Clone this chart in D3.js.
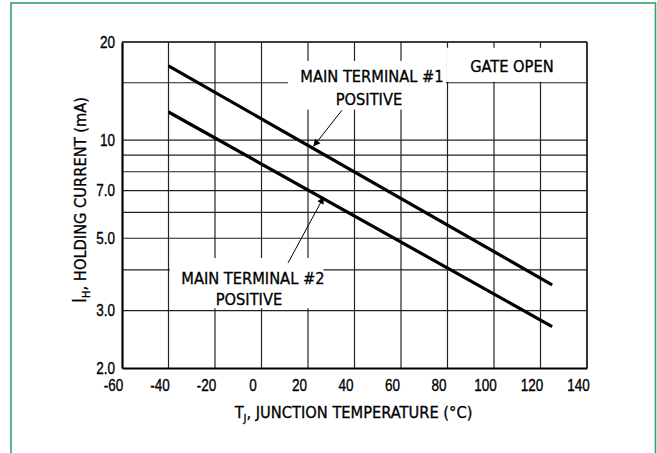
<!DOCTYPE html>
<html><head><meta charset="utf-8">
<script src="https://cdn.jsdelivr.net/npm/d3@7/dist/d3.min.js"></script>
<style>
html,body{margin:0;padding:0;background:#fff;}
svg{display:block;}
.lab{font-family:"DejaVu Sans Condensed","Liberation Sans Narrow",sans-serif;font-size:16.3px;fill:#000;stroke:#000;stroke-width:0.3px;}
</style></head>
<body>
<svg id="c" width="657" height="453"></svg>
<script>
// ---- data ----
const temperatureTicks = [-60, -40, -20, 0, 20, 40, 60, 80, 100, 120, 140];
const currentGrid = [2, 3, 4, 5, 6, 7, 8, 9, 10, 15, 20];
const currentTickLabels = [[20, "20"], [10, "10"], [7, "7.0"], [5, "5.0"], [3, "3.0"], [2, "2.0"]];
const mt1Temp = [-40, 125];
const mt1Current = [16.9, 3.6];
const mt2Temp = [-40, 125];
const mt2Current = [12.2, 2.68];

const svg = d3.select("#c");
svg.append("rect").attr("x", 11).attr("y", 3).attr("width", 644.5).attr("height", 470)
  .attr("fill", "none").attr("stroke", "#2ea36c").attr("stroke-width", 1.6);

const L = 122, R = 587, T = 42, B = 368;
const x = d3.scaleLinear().domain([-60, 140]).range([L, R]);
const y = d3.scaleLog().domain([2, 20]).range([B, T]);
const SX = 0.82; // condensed digits
const NUMFONT = "'Liberation Sans', Arial, Helvetica, sans-serif";

const g = svg.append("g");
g.selectAll("line.vg").data(temperatureTicks.slice(1)).join("line")
  .attr("x1", d => x(d)).attr("x2", d => x(d)).attr("y1", T).attr("y2", B)
  .attr("stroke", "#222").attr("stroke-width", 1.2);
g.selectAll("line.hg").data(currentGrid.slice(1)).join("line")
  .attr("x1", L).attr("x2", R).attr("y1", d => y(d)).attr("y2", d => y(d))
  .attr("stroke", "#222").attr("stroke-width", 1.2);

function box(t0, t1, v0, v1) {
  g.append("rect").attr("x", x(t0)).attr("y", y(v0)).attr("width", x(t1) - x(t0)).attr("height", y(v1) - y(v0))
    .attr("fill", "#fff");
}
box(11.4, 79.3, 17.5, 12.4);   // MT1
box(79.6, 139.6, 19.2, 15.1);  // gate open
box(-39.4, 26.7, 4.35, 3.05);  // MT2

const xAxis = d3.axisBottom(x).tickValues(temperatureTicks).tickSize(0).tickPadding(11).tickFormat(d => String(d));
const xa = svg.append("g").attr("transform", `translate(0,${B})`).call(xAxis);
xa.select(".domain").attr("stroke", "#000").attr("stroke-width", 2.2);
xa.selectAll("text").attr("font-family", NUMFONT).attr("font-size", 16.5).attr("fill", "#000")
  .attr("stroke", "#000").attr("stroke-width", 0.35)
  .attr("dx", -9 / SX).attr("transform", `scale(${SX},1)`);

const yAxis = d3.axisLeft(y).tickValues(currentTickLabels.map(d => d[0])).tickSize(0).tickPadding(7)
  .tickFormat(d => (currentTickLabels.find(e => e[0] === d) || [0, ""])[1]);
const ya = svg.append("g").attr("transform", `translate(${L},0)`).call(yAxis);
ya.select(".domain").attr("stroke", "#000").attr("stroke-width", 2.2);
ya.selectAll("text").attr("font-family", NUMFONT).attr("font-size", 16.5).attr("fill", "#000")
  .attr("stroke", "#000").attr("stroke-width", 0.35)
  .attr("x", -7 / SX).attr("transform", `scale(${SX},1)`);

svg.append("line").attr("x1", L).attr("x2", R).attr("y1", T).attr("y2", T).attr("stroke", "#222").attr("stroke-width", 1.6);
svg.append("line").attr("x1", R).attr("x2", R).attr("y1", T).attr("y2", B).attr("stroke", "#222").attr("stroke-width", 1.6);

const line = d3.line().x(d => x(d[0])).y(d => y(d[1]));
[[mt1Temp, mt1Current], [mt2Temp, mt2Current]].forEach(([ts, vs]) => {
  svg.append("path").datum(ts.map((t, i) => [t, vs[i]])).attr("d", line)
    .attr("fill", "none").attr("stroke", "#000").attr("stroke-width", 3.2);
});

svg.append("defs").append("marker").attr("id", "ah").attr("viewBox", "0 0 10 10").attr("refX", 10).attr("refY", 5)
  .attr("markerWidth", 10).attr("markerHeight", 7).attr("markerUnits", "userSpaceOnUse").attr("orient", "auto")
  .append("path").attr("d", "M0,0 L10,5 L0,10 Z").attr("fill", "#000");
function interp(ts, vs, t) {
  const f = (t - ts[0]) / (ts[1] - ts[0]);
  return Math.exp(Math.log(vs[0]) + f * (Math.log(vs[1]) - Math.log(vs[0])));
}
function arrow(t0, v0, t1, ts, vs) {
  svg.append("line").attr("x1", x(t0)).attr("y1", y(v0)).attr("x2", x(t1)).attr("y2", y(interp(ts, vs, t1)) - 2)
    .attr("stroke", "#000").attr("stroke-width", 1).attr("marker-end", "url(#ah)");
}
arrow(34.6, 12.35, 22.3, mt1Temp, mt1Current);
arrow(11.4, 4.2, 26.8, mt2Temp, mt2Current);

function txt(t, v, s) {
  svg.append("text").attr("class", "lab").attr("x", x(t)).attr("y", y(v)).attr("text-anchor", "middle").text(s);
}
txt(47.5, 15.07, "MAIN TERMINAL #1");
txt(46.2, 12.81, "POSITIVE");
txt(107.7, 16.18, "GATE OPEN");
txt(-3.7, 3.63, "MAIN TERMINAL #2");
txt(-5.4, 3.115, "POSITIVE");

const xt = svg.append("text").attr("class", "lab").attr("x", (L + R) / 2 - 1).attr("y", 418).attr("text-anchor", "middle");
xt.append("tspan").text("T");
xt.append("tspan").attr("font-size", "11px").attr("dy", 4).text("J");
xt.append("tspan").attr("dy", -4).text(", JUNCTION TEMPERATURE (°C)");

const yt = svg.append("text").attr("class", "lab").attr("font-size", "15.5px")
  .attr("transform", `translate(86,200) rotate(-90)`).attr("text-anchor", "middle");
yt.append("tspan").attr("font-size", "19px").text("I");
yt.append("tspan").attr("font-size", "11px").attr("dy", 4).text("H");
yt.append("tspan").attr("dy", -4).text(", HOLDING CURRENT (mA)");
</script>
</body></html>
